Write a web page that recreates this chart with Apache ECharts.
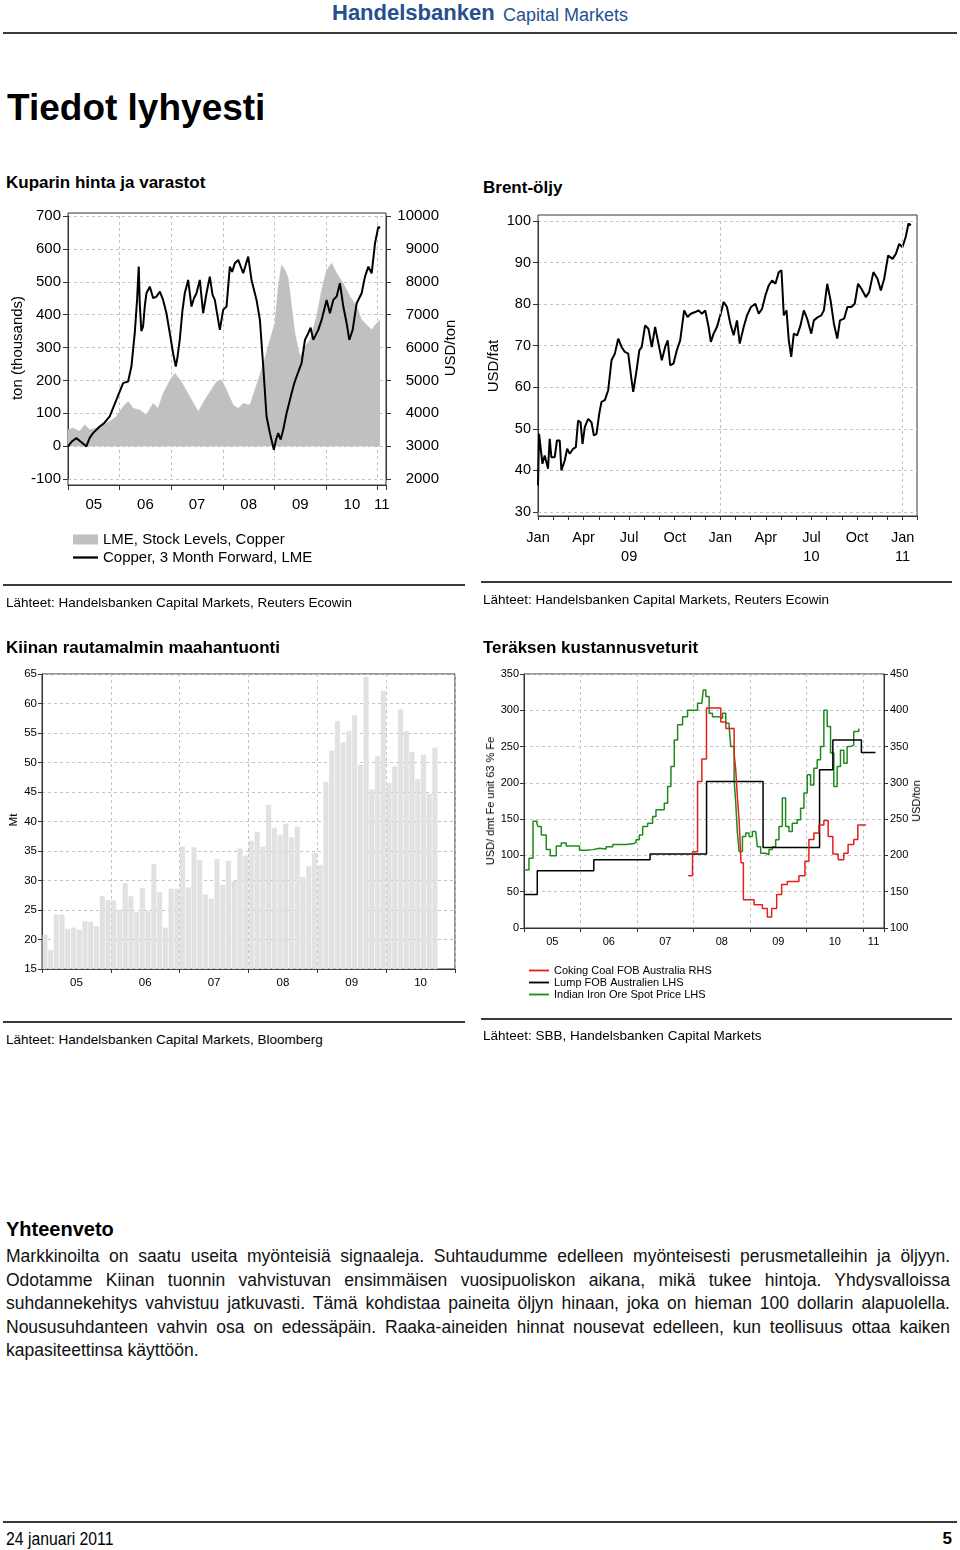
<!DOCTYPE html>
<html><head><meta charset="utf-8">
<script src="https://cdn.jsdelivr.net/npm/echarts@6/dist/echarts.min.js"></script>
<style>
body{margin:0;background:#fff;font-family:Arial,"Liberation Sans",sans-serif;color:#000;}
#page{position:relative;width:960px;height:1550px;overflow:hidden;background:#fff;}
.t{position:absolute;white-space:nowrap;}
.rule{position:absolute;background:#3a3a3a;}
.rot{position:absolute;white-space:nowrap;transform:translate(-50%,-50%) rotate(-90deg);}
.chart{position:absolute;}
.par{position:absolute;left:6px;width:944px;font-size:17.5px;line-height:23.5px;text-align:justify;text-align-last:justify;white-space:nowrap;color:#111;}
.narrow{transform:scaleX(0.9);transform-origin:left top;}
</style></head>
<body><div id="page">

<div class="t" style="left:332px;top:0px;font-size:22px;line-height:26px;font-weight:bold;color:#24508f;">Handelsbanken</div>
<div class="t" style="left:503px;top:4px;font-size:18px;line-height:22px;color:#24508f;">Capital Markets</div>
<div class="rule" style="left:3px;top:32px;width:954px;height:2px;"></div>

<div class="t" style="left:7px;top:86px;font-size:37px;line-height:44px;font-weight:bold;">Tiedot lyhyesti</div>
<div class="t" style="left:6px;top:173px;font-size:17px;line-height:20px;font-weight:bold;">Kuparin hinta ja varastot</div>
<div class="t" style="left:483px;top:178px;font-size:17px;line-height:20px;font-weight:bold;">Brent-öljy</div>

<div id="c1" class="chart" style="left:0;top:195px;width:470px;height:385px;"></div>
<div id="c2" class="chart" style="left:480px;top:195px;width:480px;height:380px;"></div>
<div id="c3" class="chart" style="left:0;top:660px;width:475px;height:350px;"></div>
<div id="c4" class="chart" style="left:480px;top:660px;width:480px;height:360px;"></div>

<div class="rot" style="left:16px;top:348px;font-size:15px;">ton (thousands)</div>
<div class="rot" style="left:449px;top:348px;font-size:15px;">USD/ton</div>
<div class="rot" style="left:492px;top:366px;font-size:15px;">USD/fat</div>
<div class="rot" style="left:13px;top:820px;font-size:11.5px;">Mt</div>
<div class="rot" style="left:490px;top:801px;font-size:11px;">USD/ dmt Fe unit 63 % Fe</div>
<div class="rot" style="left:916px;top:801px;font-size:11px;">USD/ton</div>

<div class="rule" style="left:3px;top:584px;width:462px;height:1.5px;"></div>
<div class="rule" style="left:481px;top:581px;width:471px;height:1.5px;"></div>
<div class="t" style="left:6px;top:595px;font-size:13.5px;line-height:16px;">Lähteet: Handelsbanken Capital Markets, Reuters Ecowin</div>
<div class="t" style="left:483px;top:592px;font-size:13.5px;line-height:16px;">Lähteet: Handelsbanken Capital Markets, Reuters Ecowin</div>

<div class="t" style="left:6px;top:638px;font-size:17px;line-height:20px;font-weight:bold;">Kiinan rautamalmin maahantuonti</div>
<div class="t" style="left:483px;top:638px;font-size:17px;line-height:20px;font-weight:bold;">Teräksen kustannusveturit</div>

<div class="rule" style="left:3px;top:1021px;width:462px;height:1.5px;"></div>
<div class="rule" style="left:481px;top:1018px;width:471px;height:1.5px;"></div>
<div class="t" style="left:6px;top:1032px;font-size:13.5px;line-height:16px;">Lähteet: Handelsbanken Capital Markets, Bloomberg</div>
<div class="t" style="left:483px;top:1028px;font-size:13.5px;line-height:16px;">Lähteet: SBB, Handelsbanken Capital Markets</div>

<div class="t" style="left:6px;top:1217px;font-size:20px;line-height:24px;font-weight:bold;">Yhteenveto</div>
<div class="par" style="top:1245px;">Markkinoilta on saatu useita myönteisiä signaaleja. Suhtaudumme edelleen myönteisesti perusmetalleihin ja öljyyn.</div>
<div class="par" style="top:1268.5px;">Odotamme Kiinan tuonnin vahvistuvan ensimmäisen vuosipuoliskon aikana, mikä tukee hintoja. Yhdysvalloissa</div>
<div class="par" style="top:1292px;">suhdannekehitys vahvistuu jatkuvasti. Tämä kohdistaa paineita öljyn hinaan, joka on hieman 100 dollarin alapuolella.</div>
<div class="par" style="top:1315.5px;">Noususuhdanteen vahvin osa on edessäpäin. Raaka-aineiden hinnat nousevat edelleen, kun teollisuus ottaa kaiken</div>
<div class="par" style="top:1339px;text-align:left;text-align-last:left;">kapasiteettinsa käyttöön.</div>

<div class="rule" style="left:3px;top:1521px;width:954px;height:2px;"></div>
<div class="t narrow" style="left:6px;top:1528px;font-size:17.5px;line-height:22px;">24 januari 2011</div>
<div class="t" style="right:8px;top:1528px;font-size:17px;line-height:22px;font-weight:bold;">5</div>

</div>
<script>
// ---------- Chart 1: Copper price & LME stocks ----------
const copperStockName = 'LME, Stock Levels, Copper';
const copperPriceName = 'Copper, 3 Month Forward, LME';
const copperStockYears = [2005.000,2005.097,2005.226,2005.323,2005.420,2005.549,2005.679,2005.808,2005.937,2006.067,2006.164,2006.261,2006.390,2006.519,2006.648,2006.745,2006.842,2006.972,2007.069,2007.198,2007.359,2007.521,2007.650,2007.747,2007.877,2007.974,2008.071,2008.200,2008.297,2008.394,2008.523,2008.620,2008.717,2008.814,2008.911,2009.008,2009.072,2009.137,2009.202,2009.266,2009.331,2009.396,2009.493,2009.590,2009.687,2009.816,2009.913,2010.010,2010.107,2010.204,2010.333,2010.462,2010.592,2010.688,2010.785,2010.882,2010.979,2011.044];
const copperStock = [50,55,45,65,50,55,65,75,90,120,136,115,110,95,130,115,160,200,222,196,150,105,140,165,196,202,171,125,115,130,125,171,217,267,323,374,485,551,536,511,425,343,273,303,323,394,475,536,556,526,495,455,425,384,369,354,374,384];
const copperPriceYears = [2005.000,2005.080,2005.162,2005.260,2005.356,2005.420,2005.485,2005.614,2005.700,2005.808,2005.870,2005.937,2006.067,2006.164,2006.228,2006.293,2006.338,2006.370,2006.390,2006.420,2006.454,2006.490,2006.519,2006.584,2006.650,2006.713,2006.780,2006.842,2006.907,2006.972,2007.036,2007.088,2007.120,2007.165,2007.215,2007.262,2007.327,2007.392,2007.440,2007.489,2007.553,2007.618,2007.683,2007.747,2007.800,2007.844,2007.941,2008.006,2008.071,2008.135,2008.180,2008.232,2008.297,2008.394,2008.440,2008.491,2008.555,2008.652,2008.717,2008.782,2008.846,2008.911,2008.988,2009.030,2009.072,2009.120,2009.169,2009.234,2009.331,2009.380,2009.428,2009.525,2009.590,2009.654,2009.700,2009.751,2009.848,2009.913,2010.010,2010.074,2010.139,2010.204,2010.268,2010.333,2010.398,2010.449,2010.514,2010.592,2010.688,2010.753,2010.818,2010.882,2010.947,2011.012,2011.044];
const copperPrice = [2990,3150,3243,3120,2990,3250,3395,3598,3700,3902,4150,4408,4915,4966,5421,6435,7448,8461,7347,6500,6637,7300,7650,7853,7500,7549,7700,7448,7043,6435,5827,5421,5700,6232,7100,7650,8056,7245,7500,7650,8056,7043,7650,8157,7600,7448,6536,7144,7245,8461,8300,8562,8664,8258,8500,8765,8056,7448,6840,5421,3902,3395,2889,3200,3395,3200,3497,4003,4611,4900,5118,5523,6232,6435,6600,6232,6536,6840,7448,7043,7448,7549,7954,7245,6739,6232,6536,7347,7650,8157,8461,8258,9170,9677,9626];
const copperTickLabels = ['05','06','07','08','09','10','11'];
const copperTickLabelPos = [2005.5,2006.5,2007.5,2008.5,2009.5,2010.5,2011.08];

// ---------- Chart 2: Brent ----------
const brentMonths = [0.00,0.07,0.18,0.29,0.44,0.55,0.66,0.77,0.88,1.10,1.25,1.43,1.54,1.76,1.92,2.09,2.31,2.49,2.64,2.80,2.93,3.08,3.30,3.52,3.68,3.85,4.03,4.18,4.40,4.62,4.84,5.06,5.28,5.50,5.72,5.94,6.16,6.27,6.49,6.67,6.83,7.05,7.27,7.49,7.71,7.93,8.15,8.37,8.54,8.70,8.92,9.14,9.36,9.62,9.84,10.06,10.35,10.57,10.79,11.01,11.23,11.38,11.56,11.78,12.00,12.22,12.44,12.66,12.88,13.10,13.28,13.54,13.76,14.02,14.31,14.53,14.75,14.97,15.19,15.41,15.63,15.85,16.03,16.18,16.36,16.51,16.67,16.84,17.06,17.28,17.50,17.72,17.99,18.16,18.43,18.65,18.82,19.04,19.26,19.48,19.70,19.88,20.15,20.37,20.63,20.85,21.07,21.29,21.58,21.80,22.08,22.35,22.57,22.79,23.05,23.34,23.56,23.78,23.99,24.21,24.39,24.55];
const brentPrice = [36.4,48.8,49.2,41.6,43.6,43.2,40.4,47.6,43.2,43.2,47.2,47.2,40.0,42.4,45.2,44.0,45.2,45.6,52.0,51.6,46.4,50.4,52.4,51.6,48.4,48.8,53.6,56.5,56.9,59.3,66.5,68.1,71.7,69.7,68.5,68.1,61.7,58.9,64.1,68.9,69.7,74.9,74.1,69.7,74.5,70.5,66.5,69.7,71.3,65.3,65.7,68.9,71.3,78.5,76.9,77.7,78.1,78.5,77.7,78.5,74.5,70.9,72.9,74.5,77.3,80.5,79.3,75.3,72.5,76.1,70.5,74.5,77.3,79.3,80.1,77.7,78.9,82.1,84.5,85.7,84.9,87.7,88.1,77.3,78.5,71.3,67.3,72.9,72.5,74.9,78.5,76.5,72.9,76.1,76.9,77.3,78.5,84.9,80.9,75.3,71.7,76.1,76.5,79.3,79.3,80.1,84.9,83.7,81.7,82.9,87.7,86.1,83.3,86.1,91.7,90.9,92.1,94.5,93.7,96.2,99.4,99.0];
const brentTickLabels = ['Jan','Apr','Jul\n09','Oct','Jan','Apr','Jul\n10','Oct','Jan\n11'];
const brentTickLabelPos = [0,3,6,9,12,15,18,21,24];

// ---------- Chart 3: China iron ore imports (monthly, Jan 2005 - Sep 2010) ----------
const ironImports = [
 20.8,18.2,24.2,24.2,21.8,22.0,21.6,23.1,23.0,22.2,27.3,26.7,
 26.6,25.0,29.5,27.3,24.6,28.7,24.8,32.8,28.0,22.0,28.6,28.6,
 35.7,28.8,35.6,33.4,27.6,26.9,33.6,29.2,33.3,29.9,35.4,34.2,
 36.7,38.2,35.7,42.8,38.9,37.7,39.6,37.3,39.1,30.6,32.4,34.6,
 32.6,46.7,52.0,57.0,53.4,55.3,58.0,49.6,64.5,45.4,51.1,62.1,
 46.5,49.3,59.0,55.3,51.8,47.2,51.3,44.7,52.5];
const ironTickLabels = ['05','06','07','08','09','10'];
const ironTickLabelPos = [6,18,30,42,54,66];

// ---------- Chart 4: Steel cost drivers ----------
const cokingName = 'Coking Coal FOB Australia RHS';
const lumpName = 'Lump FOB Australien LHS';
const indianName = 'Indian Iron Ore Spot Price LHS';
const cokingYears = [2007.906,2007.982,2008.071,2008.147,2008.229,2008.482,2008.571,2008.718,2008.747,2008.776,2008.806,2008.840,2008.882,2009.071,2009.218,2009.306,2009.382,2009.471,2009.559,2009.659,2009.865,2009.971,2010.041,2010.129,2010.218,2010.306,2010.382,2010.465,2010.559,2010.659,2010.735,2010.835,2010.906,2011.053];
const cokingPrice = [172,205,302,333,403,384,375,340,318,280,249,190,139,132,127,115,127,146,160,164,172,192,222,231,242,248,226,202,194,203,215,222,242,242];
const lumpYears = [2005.0,2005.235,2006.235,2007.23,2008.23,2009.23,2010.23,2010.465,2010.97,2011.22];
const lumpPrice = [46,79,94,102,202,111,218,259,242,242];
const indianYears = [2005.000,2005.088,2005.159,2005.229,2005.247,2005.306,2005.394,2005.465,2005.571,2005.659,2005.747,2005.982,2006.100,2006.218,2006.335,2006.453,2006.571,2006.806,2006.924,2006.982,2007.041,2007.100,2007.188,2007.276,2007.335,2007.424,2007.482,2007.541,2007.600,2007.659,2007.718,2007.806,2007.894,2007.982,2008.071,2008.147,2008.171,2008.218,2008.276,2008.335,2008.453,2008.512,2008.571,2008.629,2008.659,2008.718,2008.747,2008.776,2008.806,2008.865,2008.924,2008.982,2009.041,2009.100,2009.129,2009.188,2009.276,2009.335,2009.394,2009.453,2009.512,2009.571,2009.629,2009.688,2009.747,2009.835,2009.894,2009.953,2010.012,2010.071,2010.129,2010.188,2010.247,2010.306,2010.365,2010.424,2010.482,2010.541,2010.600,2010.659,2010.718,2010.776,2010.835,2010.924];
const indianPrice = [80,96,147,144,140,128,108,99.5,113,117,113,107,108,110,109,112,115,116,118,121.6,128,140,144.5,153.7,163,163,172,195,222.5,259,280,291,300,300,309.6,309.6,328,319,296,291,289,296,282,277.5,250,204,172,131,105.5,126,131,126,133,131,112,103,101,108,112,121.6,140,179,140,133,144.5,149,165,186,211,197,220,231.7,250,300,277.5,241,195,222.5,245,227,250,252,270.6,275];
const steelTickLabels = ['05','06','07','08','09','10','11'];
const steelTickLabelPos = [2005.5,2006.5,2007.5,2008.5,2009.5,2010.5,2011.185];

const pairs = (xs, ys) => xs.map((x, i) => [x, ys[i]]);
const AX = '#333';
const GRIDC = '#c4c4c4';
const FONT = 'Arial, "Liberation Sans", sans-serif';
const LINE_ICON = 'path://M0,0 L24,0 L24,2.2 L0,2.2 Z';
const lbl = (pos, txt) => (v) => { const i = pos.findIndex(p => Math.abs(p - v) < 1e-6); return i >= 0 ? txt[i] : ''; };

// Chart 1
const c1 = echarts.init(document.getElementById('c1'));
c1.setOption({
  animation: false,
  textStyle: { fontFamily: FONT },
  grid: { left: 68, top: 21, width: 318, height: 263 },
  xAxis: {
    type: 'value', min: 2005, max: 2011.16, interval: 1, offset: 6,
    axisLine: { show: true, onZero: false, lineStyle: { color: AX } },
    axisTick: { show: true, length: 5, lineStyle: { color: AX } },
    axisLabel: { customValues: copperTickLabelPos, formatter: lbl(copperTickLabelPos, copperTickLabels), fontSize: 15, color: '#000', margin: 12 },
    splitLine: { show: true, lineStyle: { type: [3, 3], color: GRIDC } }
  },
  yAxis: [
    { type: 'value', min: -100, max: 700, interval: 100,
      axisLine: { show: true, lineStyle: { color: AX } },
      axisTick: { show: true, length: 5, lineStyle: { color: AX } },
      axisLabel: { fontSize: 15, color: '#000', margin: 7 },
      splitLine: { show: true, lineStyle: { type: [3, 3], color: GRIDC } } },
    { type: 'value', min: 2000, max: 10000, interval: 1000, position: 'right',
      axisLine: { show: true, lineStyle: { color: AX } },
      axisTick: { show: true, length: 5, lineStyle: { color: AX } },
      axisLabel: { fontSize: 15, color: '#000', margin: 53, align: 'right', formatter: v => String(v) },
      splitLine: { show: false } }
  ],
  legend: {
    orient: 'vertical', left: 68, top: 332, itemGap: 3, itemWidth: 25, itemHeight: 10,
    textStyle: { fontSize: 15, color: '#000' },
    data: [{ name: copperStockName, icon: 'rect' }, { name: copperPriceName, icon: LINE_ICON }]
  },
  graphic: [{ type: 'rect', shape: { x: 68, y: 18, width: 318, height: 272 }, style: { fill: 'none', stroke: AX, lineWidth: 1 }, silent: true }],
  series: [
    { name: copperStockName, type: 'line', yAxisIndex: 0, data: pairs(copperStockYears, copperStock), symbol: 'none',
      color: '#c0c0c0', lineStyle: { width: 0.5, color: '#c0c0c0' }, areaStyle: { color: '#c0c0c0', opacity: 1 } },
    { name: copperPriceName, type: 'line', yAxisIndex: 1, data: pairs(copperPriceYears, copperPrice), symbol: 'none',
      color: '#000', lineStyle: { width: 2, color: '#000' } }
  ]
});

// Chart 2
const c2 = echarts.init(document.getElementById('c2'));
c2.setOption({
  animation: false,
  textStyle: { fontFamily: FONT },
  grid: { left: 58, top: 26, width: 379, height: 291 },
  xAxis: {
    type: 'value', min: 0, max: 24.95, interval: 1, offset: 4,
    axisLine: { show: true, onZero: false, lineStyle: { color: AX } },
    axisTick: { show: true, length: 4, lineStyle: { color: AX } },
    axisLabel: { customValues: brentTickLabelPos, formatter: lbl(brentTickLabelPos, brentTickLabels), fontSize: 14.5, lineHeight: 19, color: '#000', margin: 12 },
    splitLine: { show: false }
  },
  yAxis: { type: 'value', min: 30, max: 100, interval: 10,
    axisLine: { show: true, lineStyle: { color: AX } },
    axisTick: { show: true, length: 5, lineStyle: { color: AX } },
    axisLabel: { fontSize: 14.5, color: '#000', margin: 7 },
    splitLine: { show: true, lineStyle: { type: [3, 3], color: GRIDC } } },
  graphic: [{ type: 'rect', shape: { x: 58, y: 20, width: 379, height: 301 }, style: { fill: 'none', stroke: AX, lineWidth: 1 }, silent: true }],
  series: [{ type: 'line', data: pairs(brentMonths, brentPrice), symbol: 'none', lineStyle: { width: 2, color: '#000' }, color: '#000',
    markLine: { silent: true, symbol: 'none', label: { show: false }, lineStyle: { type: [3, 3], color: GRIDC, width: 1 },
      data: [{ xAxis: 12 }, { xAxis: 24 }] } }]
});

// Chart 3
const c3 = echarts.init(document.getElementById('c3'));
c3.setOption({
  animation: false,
  textStyle: { fontFamily: FONT },
  grid: { left: 42, top: 14, width: 413, height: 295, show: true, borderColor: AX, borderWidth: 1 },
  xAxis: {
    type: 'value', min: 0, max: 72, interval: 12,
    axisLine: { show: true, onZero: false, lineStyle: { color: AX } },
    axisTick: { show: true, length: 4, lineStyle: { color: AX } },
    axisLabel: { customValues: ironTickLabelPos, formatter: lbl(ironTickLabelPos, ironTickLabels), fontSize: 11.5, color: '#000', margin: 8 },
    splitLine: { show: true, lineStyle: { type: [3, 3], color: GRIDC } }
  },
  yAxis: { type: 'value', min: 15, max: 65, interval: 5,
    axisLine: { show: true, lineStyle: { color: AX } },
    axisTick: { show: true, length: 4, lineStyle: { color: AX } },
    axisLabel: { fontSize: 11.5, color: '#000', margin: 5 },
    splitLine: { show: true, lineStyle: { type: [3, 3], color: GRIDC } } },
  series: [{ type: 'bar', data: ironImports.map((v, i) => [i + 0.5, v]), barWidth: 4.8,
    itemStyle: { color: '#e2e2e2', borderColor: '#d4d4d4', borderWidth: 0.4 } }]
});

// Chart 4
const c4 = echarts.init(document.getElementById('c4'));
c4.setOption({
  animation: false,
  textStyle: { fontFamily: FONT },
  grid: { left: 44, top: 14, width: 360, height: 254, show: true, borderColor: AX, borderWidth: 1 },
  xAxis: {
    type: 'value', min: 2005, max: 2011.37, interval: 1,
    axisLine: { show: true, onZero: false, lineStyle: { color: AX } },
    axisTick: { show: true, length: 4, lineStyle: { color: AX } },
    axisLabel: { customValues: steelTickLabelPos, formatter: lbl(steelTickLabelPos, steelTickLabels), fontSize: 11, color: '#000', margin: 8 },
    splitLine: { show: true, lineStyle: { type: [3, 3], color: GRIDC } }
  },
  yAxis: [
    { type: 'value', min: 0, max: 350, interval: 50,
      axisLine: { show: true, lineStyle: { color: AX } },
      axisTick: { show: true, length: 4, lineStyle: { color: AX } },
      axisLabel: { fontSize: 11, color: '#000', margin: 5 },
      splitLine: { show: true, lineStyle: { type: [3, 3], color: GRIDC } } },
    { type: 'value', min: 100, max: 450, interval: 50, position: 'right',
      axisLine: { show: true, lineStyle: { color: AX } },
      axisTick: { show: true, length: 4, lineStyle: { color: AX } },
      axisLabel: { fontSize: 11, color: '#000', margin: 6 },
      splitLine: { show: false } }
  ],
  legend: {
    orient: 'vertical', left: 44, top: 300, itemGap: 1, itemWidth: 20, itemHeight: 9,
    textStyle: { fontSize: 11, color: '#000' },
    data: [{ name: cokingName, icon: LINE_ICON }, { name: lumpName, icon: LINE_ICON }, { name: indianName, icon: LINE_ICON }]
  },
  series: [
    { name: indianName, type: 'line', step: 'end', yAxisIndex: 0, data: pairs(indianYears, indianPrice), symbol: 'none',
      color: '#1f8a1f', lineStyle: { width: 1.5, color: '#1f8a1f' } },
    { name: lumpName, type: 'line', step: 'end', yAxisIndex: 0, data: pairs(lumpYears, lumpPrice), symbol: 'none',
      color: '#000', lineStyle: { width: 1.5, color: '#000' } },
    { name: cokingName, type: 'line', step: 'end', yAxisIndex: 1, data: pairs(cokingYears, cokingPrice), symbol: 'none',
      color: '#e3201b', lineStyle: { width: 1.5, color: '#e3201b' } }
  ]
});
</script>
</body></html>
